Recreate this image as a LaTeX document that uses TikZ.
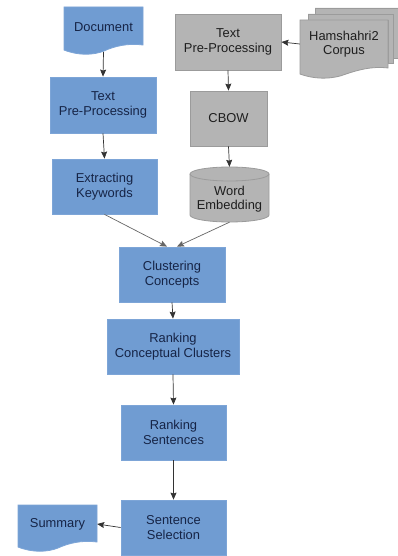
\documentclass[tikz,border=0pt]{standalone}
\usepackage{fontspec}
\setmainfont{Liberation Sans}
\usetikzlibrary{arrows.meta}
\definecolor{bluefill}{RGB}{112,156,210}
\definecolor{blueline}{RGB}{125,165,215}
\definecolor{grayfill}{RGB}{180,180,180}
\definecolor{grayline}{RGB}{155,155,155}
\definecolor{bluetext}{RGB}{22,36,70}
\definecolor{graytext}{RGB}{30,30,30}
\tikzset{
  bbox/.style={rectangle, fill=bluefill, draw=blueline, line width=0.8pt, text=bluetext,
    align=center, font=\fontsize{12.9}{14.5}\selectfont, inner sep=0pt},
  gbox/.style={rectangle, fill=grayfill, draw=grayline, line width=0.8pt, text=graytext,
    align=center, font=\fontsize{12.9}{14.5}\selectfont, inner sep=0pt},
  btxt/.style={text=bluetext, align=center, font=\fontsize{12.9}{14.5}\selectfont, inner sep=0pt},
  gtxt/.style={text=graytext, align=center, font=\fontsize{12.9}{14.5}\selectfont, inner sep=0pt},
  gshape/.style={fill=grayfill, draw=grayline, line width=0.8pt},
  bshape/.style={fill=bluefill, draw=blueline, line width=0.8pt},
  arr/.style={draw=black!80, line width=0.7pt, -{Stealth[length=7pt,width=6pt,inset=1pt]}},
  garr/.style={draw=black!60, line width=0.7pt, -{Stealth[length=7pt,width=6pt,inset=1pt]}},
}
\begin{document}
\begin{tikzpicture}[x=1pt,y=-1pt]
\useasboundingbox[fill=white] (0,0) rectangle (398,556);

% Document shape
\path[bshape]
  (64,7) -- (143,7) -- (143,45) .. controls (128,43) and (115,46) .. (104,51)
  .. controls (94,55) and (79,56) .. (64,50) -- cycle;
\node[btxt, minimum width=79, minimum height=40] (doc) at (103.5,27) {Document};
\coordinate (docb) at (103.5,52);

% Summary shape
\path[bshape]
  (18,505) -- (97,505) -- (97,542) .. controls (82,540) and (69,543) .. (58,548)
  .. controls (48,552) and (33,553) .. (18,547) -- cycle;
\node[btxt, minimum width=79, minimum height=38] (sum) at (57.5,524) {Summary};

% Hamshahri multi-document
\path[gshape]
  (315,8) -- (398,8) -- (398,58) -- (392,58) -- (392,14) -- (315,14) -- cycle;
\path[gshape]
  (308,14) -- (393,14) -- (393,63) -- (388,63) -- (388,20) -- (308,20) -- cycle;
\path[gshape]
  (300,20) -- (388,20) -- (388,68) .. controls (372,66) and (358,70) .. (346,74)
  .. controls (334,79) and (316,80) .. (300,74) -- cycle;
\node[gtxt, minimum width=88, minimum height=44] (ham) at (344,44) {Hamshahri2\\Corpus};

% Word Embedding cylinder
\path[gshape] (190,174) arc[start angle=180, end angle=360, x radius=39.5, y radius=7]
  -- (269,215) arc[start angle=0, end angle=180, x radius=39.5, y radius=7] -- cycle;
\draw[grayline, line width=0.8pt] (190,174) arc[start angle=180, end angle=0, x radius=39.5, y radius=7];
\node[gtxt, minimum width=79, minimum height=55] (we) at (229.5,194.5) {};
\node[gtxt] (wet) at (229.5,199) {Word\\Embedding};

% Boxes
\node[bbox, minimum width=106, minimum height=56] (tpp1) at (103,105) {Text\\Pre-Processing};
\node[bbox, minimum width=105, minimum height=55] (ext) at (104.5,186.5) {Extracting\\Keywords};
\node[gbox, minimum width=106, minimum height=56] (tpp2) at (228,42) {Text\\Pre-Processing};
\node[gbox, minimum width=77, minimum height=55] (cbow) at (228.5,118.5) {CBOW};
\node[bbox, minimum width=106, minimum height=55] (clu) at (172,274.5) {Clustering\\Concepts};
\node[bbox, minimum width=132, minimum height=55] (rcc) at (173,346.5) {Ranking\\Conceptual Clusters};
\node[bbox, minimum width=105, minimum height=55] (rs) at (173.5,432.5) {Ranking\\Sentences};
\node[bbox, minimum width=105, minimum height=55] (ss) at (173.5,527.5) {Sentence\\Selection};

% Connectors
\draw[arr] (docb) -- (tpp1.north);
\draw[arr] (tpp1.south) -- (ext.north);
\draw[arr] (ham.west) -- (tpp2.east);
\draw[arr] (tpp2.south) -- (cbow.north);
\draw[arr] (cbow.south) -- (we.north);
\draw[garr] (ext.south) -- ([xshift=-5]clu.north);
\draw[garr] (we.south) -- ([xshift=5]clu.north);
\draw[arr] (clu.south) -- (rcc.north);
\draw[arr] (rcc.south) -- (rs.north);
\draw[arr] (rs.south) -- (ss.north);
\draw[arr] (ss.west) -- (sum.east);
\end{tikzpicture}
\end{document}
